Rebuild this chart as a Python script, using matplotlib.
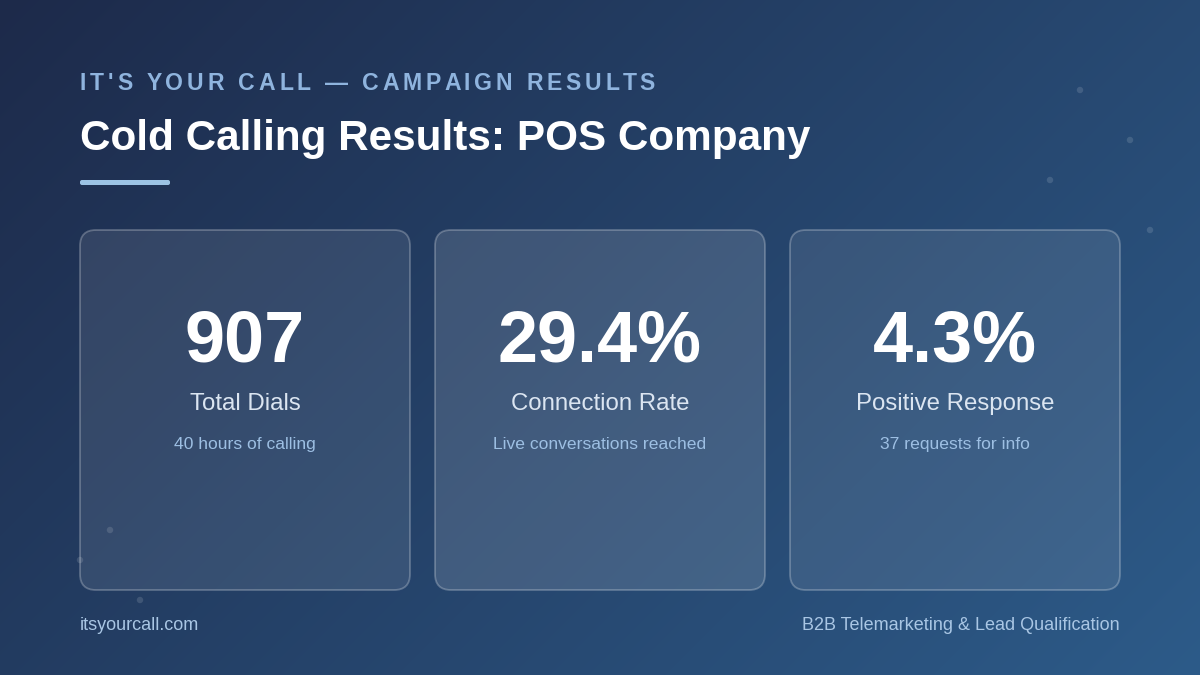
import numpy as np
import matplotlib.pyplot as plt
from matplotlib.patches import FancyBboxPatch, Circle

W, H = 1200, 675
plt.rcParams['font.family'] = ['Liberation Sans', 'DejaVu Sans']

# content
kicker = "IT'S YOUR CALL \u2014 CAMPAIGN RESULTS"
title = "Cold Calling Results: POS Company"
metric_values = ["907", "29.4%", "4.3%"]
metric_labels = ["Total Dials", "Connection Rate", "Positive Response"]
metric_notes = ["40 hours of calling", "Live conversations reached", "37 requests for info"]
footer_left = "itsyourcall.com"
footer_right = "B2B Telemarketing & Lead Qualification"

# decorative dots (px)
dot_x = [1080, 1130, 1050, 1150, 110, 80, 140]
dot_y = [90, 140, 180, 230, 530, 560, 600]

PX = 0.72  # px -> pt at dpi 100

fig = plt.figure(figsize=(12, 6.75), dpi=100)
ax = fig.add_axes([0, 0, 1, 1])

# background, 135deg gradient
yy, xx = np.mgrid[0:H, 0:W]
t = (xx + yy) / (W + H)
c0 = np.array([0x1d, 0x2a, 0x4a]) / 255
c1 = np.array([0x2d, 0x5b, 0x89]) / 255
bg = c0 + (c1 - c0) * t[..., None]
ax.imshow(bg, extent=[0, W, H, 0], zorder=0, interpolation='bilinear')
ax.set_xlim(0, W)
ax.set_ylim(H, 0)
ax.axis('off')

for x, y in zip(dot_x, dot_y):
    ax.add_patch(Circle((x, y), 3.2, color='white', alpha=0.13, lw=0, zorder=1))

renderer = fig.canvas.get_renderer()


def text_width(s, **kw):
    tmp = ax.text(0, 0, s, **kw)
    w = tmp.get_window_extent(renderer).width
    tmp.remove()
    return w


# kicker with letter spacing
k_style = dict(fontsize=23 * PX, fontweight='bold', color='#8fb4de')
ref_w = text_width('I', **k_style)
full_w = text_width(kicker, **k_style)
spacing = (575 - full_w) / (len(kicker) - 1)
for i, ch in enumerate(kicker):
    off = text_width(kicker[:i] + 'I', **k_style) - ref_w if i else 0
    ax.text(79.5 + off + i * spacing, 90, ch, ha='left', va='baseline', zorder=3, **k_style)

ax.text(80, 150, title, fontsize=42.2 * PX, fontweight='bold', color='white',
        ha='left', va='baseline', zorder=3)
ax.add_patch(FancyBboxPatch((80, 180), 90, 5, boxstyle='round,pad=0,rounding_size=2',
                            fc='#9cc3e4', ec='none', zorder=3))

# metric cards (middle one slightly highlighted)
card_w, card_h, gap = 330, 360, 25
card_alpha = [0.09, 0.13, 0.09]
for i, (val, lab, note) in enumerate(zip(metric_values, metric_labels, metric_notes)):
    x0 = 80 + i * (card_w + gap)
    ax.add_patch(FancyBboxPatch((x0, 230), card_w, card_h,
                                boxstyle='round,pad=0,rounding_size=16',
                                fc=(1, 1, 1, card_alpha[i]), ec=(1, 1, 1, 0.25),
                                lw=1.3, zorder=2))
    cx = x0 + card_w / 2
    ax.text(cx, 362, val, fontsize=72 * PX, fontweight='bold', color='white',
            ha='center', va='baseline', zorder=3)
    ax.text(cx, 410, lab, fontsize=24 * PX, color='#dbe5f1',
            ha='center', va='baseline', zorder=3)
    ax.text(cx, 449, note, fontsize=17.5 * PX, color='#9dbfe3',
            ha='center', va='baseline', zorder=3)

ax.text(80, 630, footer_left, fontsize=18 * PX, color='#a9c6e4',
        ha='left', va='baseline', zorder=3)
ax.text(1120, 630, footer_right, fontsize=18 * PX, color='#a9c6e4',
        ha='right', va='baseline', zorder=3)

fig.savefig('out.png', dpi=100)
